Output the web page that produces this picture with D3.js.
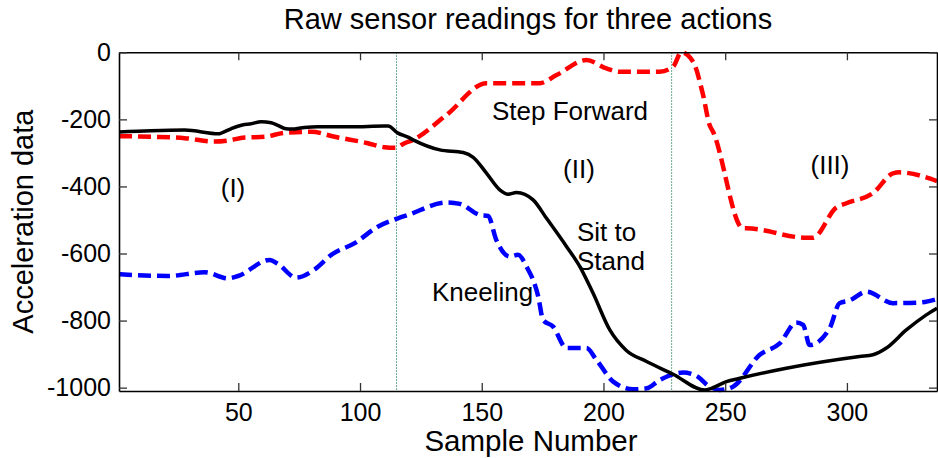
<!DOCTYPE html>
<html>
<head>
<meta charset="utf-8">
<script src="https://cdn.jsdelivr.net/npm/d3@7"></script>
<style>
  html, body { margin: 0; padding: 0; background: #fff; }
  svg { display: block; font-family: "Liberation Sans", Arial, sans-serif; }
</style>
</head>
<body>
<svg id="chart" width="938" height="458"></svg>
<script>
// Sample indices and acceleration readings for each action
const sitToStandX = [1, 14, 28, 42, 43, 47, 52.6, 54.7, 59.4, 63.5, 66.3, 69, 71.8, 77.2, 82.7, 96.4, 110, 111.5, 115.6, 119.7, 121.8, 132.8, 142.4, 146.5, 152, 157.4, 160.8, 164.3, 171.1, 176.6, 184.8, 190.3, 195.7, 202.6, 209.4, 217.7, 228.6, 241.6, 244.3, 250.5, 256, 275.1, 305.2, 310.7, 316.2, 324.4, 332.6, 337];
const sitToStandY = [-238, -234, -232, -243, -241, -228, -215, -214, -207, -210, -218, -227, -229, -224, -222, -222, -220, -220, -241, -253, -261, -291, -299, -313, -361, -410, -423, -418, -440, -495, -579, -639, -718, -828, -889, -922, -960, -1007, -1002, -982, -972, -942, -907, -902, -882, -828, -783, -763];

const stepForwardX = [1, 14.3, 28, 40.3, 45.8, 52.6, 60.8, 69, 80, 89.6, 103.2, 110, 114.5, 118.3, 121.8, 135.5, 152, 173.9, 180.7, 193, 201.2, 206.7, 223.1, 228.6, 232, 236.8, 240.9, 243.6, 245, 257.3, 258.7, 283.3, 286, 295.6, 299.8, 310.7, 318.9, 321.6, 337];
const stepForwardY = [-250, -252, -256, -266, -263, -254, -252, -240, -237, -252, -271, -283, -285, -271, -261, -187, -92, -92, -68, -23, -48, -58, -58, -43, 0, -28, -127, -217, -237, -525, -525, -553, -553, -463, -450, -420, -361, -358, -384];

const kneelingX = [1, 21.1, 36.2, 45.8, 49.9, 62.9, 66.3, 73.8, 81.4, 88.2, 97.8, 107.3, 115.6, 119.7, 135.5, 141, 149.2, 152.6, 156, 161.5, 164.9, 168.4, 173.2, 175.2, 179.3, 184.8, 193, 197.1, 204, 212.2, 217.7, 223.1, 232.7, 238.2, 243.6, 247.7, 253.2, 264.2, 272.4, 279.2, 282, 284.7, 292.9, 297, 301.1, 308, 318.9, 330.2, 337];
const kneelingY = [-662, -667, -656, -674, -667, -619, -631, -672, -647, -604, -569, -520, -495, -485, -448, -452, -485, -488, -560, -609, -604, -639, -728, -798, -818, -882, -882, -917, -982, -1005, -1002, -977, -955, -965, -997, -1007, -997, -902, -868, -806, -813, -873, -823, -748, -740, -714, -748, -746, -736];

const xTicks = [50, 100, 150, 200, 250, 300];
const yTicks = [0, -200, -400, -600, -800, -1000];
const phaseBoundaries = [115, 228];

const titleText = "Raw sensor readings for three actions";
const xLabel = "Sample Number";
const yLabel = "Acceleration data";

const svg = d3.select("#chart");
const plotLeft = 119, plotRight = 937, plotTop = 52.3, plotBottom = 391;

const x = d3.scaleLinear().domain([1, 337]).range([plotLeft, plotRight]);
const y = d3.scaleLinear().domain([-1010, 0]).range([plotBottom, plotTop]);

// phase separators
svg.append("g").selectAll("line").data(phaseBoundaries).join("line")
  .attr("x1", d => x(d)).attr("x2", d => x(d))
  .attr("y1", plotTop).attr("y2", plotBottom)
  .attr("stroke", "#3f8f6a").attr("stroke-width", 1)
  .attr("stroke-dasharray", "1.5,1.5");

// series
const series = [
  { xs: kneelingX, ys: kneelingY, color: "#0000ff", dash: "13,6", width: 4.5 },
  { xs: stepForwardX, ys: stepForwardY, color: "#ff0000", dash: "13,6", width: 4.5 },
  { xs: sitToStandX, ys: sitToStandY, color: "#000000", dash: null, width: 3.5 }
];
const line = d3.line().x(d => x(d[0])).y(d => y(d[1])).curve(d3.curveMonotoneX);
series.forEach(s => {
  svg.append("path")
    .datum(s.xs.map((v, i) => [v, s.ys[i]]))
    .attr("d", line)
    .attr("fill", "none")
    .attr("stroke", s.color)
    .attr("stroke-width", s.width)
    .attr("stroke-dasharray", s.dash)
    .attr("stroke-linejoin", "round");
});

// axes (ticks pointing inward on all four sides)
const tickLen = 8;
const axisFont = "25px";
const plain = d => String(d);
const gx = svg.append("g").attr("transform", `translate(0,${plotBottom})`)
  .call(d3.axisBottom(x).tickValues(xTicks).tickFormat(plain).tickSizeInner(-tickLen).tickSizeOuter(0).tickPadding(12));
const gxTop = svg.append("g").attr("transform", `translate(0,${plotTop})`)
  .call(d3.axisTop(x).tickValues(xTicks).tickSizeInner(-tickLen).tickSizeOuter(0).tickFormat(""));
const gy = svg.append("g").attr("transform", `translate(${plotLeft},0)`)
  .call(d3.axisLeft(y).tickValues(yTicks).tickFormat(plain).tickSizeInner(-tickLen).tickSizeOuter(0).tickPadding(8));
const gyRight = svg.append("g").attr("transform", `translate(${plotRight},0)`)
  .call(d3.axisRight(y).tickValues(yTicks).tickSizeInner(-tickLen).tickSizeOuter(0).tickFormat(""));

[gx, gxTop, gy, gyRight].forEach(g => {
  g.select(".domain").attr("stroke", "#000").attr("stroke-width", 1.6);
  g.selectAll(".tick line").attr("stroke", "#333").attr("stroke-width", 1.3);
  g.selectAll(".tick text").attr("fill", "#000").style("font-size", axisFont)
    .style("font-family", "'Liberation Sans', Arial, sans-serif");
});
gx.selectAll(".tick text").attr("dy", "0.71em");

// titles
svg.append("text").attr("x", 528).attr("y", 29).attr("text-anchor", "middle")
  .style("font-size", "29px").text(titleText);
svg.append("text").attr("x", 531).attr("y", 451).attr("text-anchor", "middle")
  .style("font-size", "29.5px").text(xLabel);
svg.append("text").attr("transform", `translate(33,${(plotTop + plotBottom) / 2}) rotate(-90)`)
  .attr("text-anchor", "middle").style("font-size", "29px").text(yLabel);

// annotations
const notes = [
  { t: "(I)", x: 233, y: 197, a: "middle" },
  { t: "Step Forward", x: 570, y: 120, a: "middle" },
  { t: "(II)", x: 579, y: 178, a: "middle" },
  { t: "(III)", x: 830, y: 174, a: "middle" },
  { t: "Sit to", x: 577, y: 241, a: "start" },
  { t: "Stand", x: 577, y: 270, a: "start" },
  { t: "Kneeling", x: 432, y: 301, a: "start" }
];
svg.append("g").selectAll("text").data(notes).join("text")
  .attr("x", d => d.x).attr("y", d => d.y).attr("text-anchor", d => d.a)
  .style("font-size", "26px").text(d => d.t);
</script>
</body>
</html>
